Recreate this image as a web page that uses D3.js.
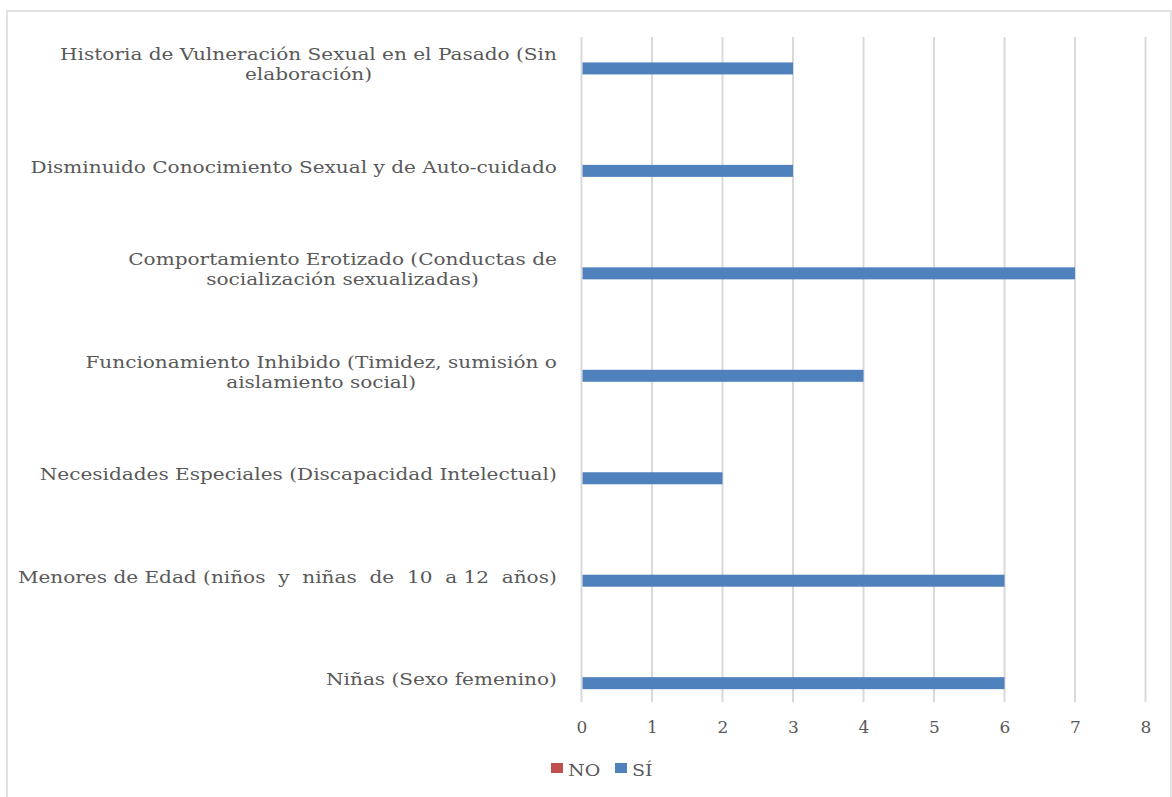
<!DOCTYPE html>
<html>
<head>
<meta charset="utf-8">
<script src="https://cdn.jsdelivr.net/npm/d3@7"></script>
<style>
  html, body { margin: 0; padding: 0; background: #fff; }
  svg { display: block; }
  text { font-family: "DejaVu Serif", "Liberation Serif", serif; fill: #595959; }
</style>
</head>
<body>
<svg id="chart" width="1172" height="797"></svg>
<script>
const categories = [
  "Historia de Vulneración Sexual en el Pasado (Sin\nelaboración)",
  "Disminuido Conocimiento Sexual y de Auto-cuidado",
  "Comportamiento Erotizado (Conductas de\nsocialización sexualizadas)",
  "Funcionamiento Inhibido (Timidez, sumisión o\naislamiento social)",
  "Necesidades Especiales (Discapacidad Intelectual)",
  "Menores de Edad (niños  y  niñas  de  10  a 12  años)",
  "Niñas (Sexo femenino)"
];
const seriesNames = ["NO", "SÍ"];
const valuesNO = [0, 0, 0, 0, 0, 0, 0];
const valuesSI = [3, 3, 7, 4, 2, 6, 6];
const xTicks = [0, 1, 2, 3, 4, 5, 6, 7, 8];
const colors = { "NO": "#c0504d", "SÍ": "#4f81bd" };

const svg = d3.select("#chart");

// chart frame
svg.append("rect")
  .attr("x", 7).attr("y", 11).attr("width", 1164).attr("height", 820)
  .attr("fill", "none").attr("stroke", "#d9d9d9").attr("stroke-width", 1.5);

const plotTop = 37, plotBottom = 702;
const x = d3.scaleLinear().domain([0, 8]).range([581.5, 1145.5]);
const y = d3.scaleBand().domain(categories).range([11.2, 728.4]).padding(0);
const yInner = d3.scaleBand().domain(seriesNames)
  .range([0, y.bandwidth()]).paddingOuter((y.bandwidth() - 24) / 24).paddingInner(0);

// gridlines
svg.append("g").selectAll("line").data(xTicks).join("line")
  .attr("x1", d => x(d)).attr("x2", d => x(d))
  .attr("y1", plotTop).attr("y2", plotBottom)
  .attr("stroke", "#d9d9d9").attr("stroke-width", 2);

// x tick labels
const xAxis = d3.axisBottom(x).tickValues(xTicks).tickSize(0).tickPadding(0).tickFormat(d3.format("d"));
const gx = svg.append("g").attr("transform", `translate(0,${plotBottom})`).call(xAxis);
gx.select(".domain").remove();
gx.selectAll("text").attr("dy", null).attr("y", 31)
  .style("font-family", '"DejaVu Serif", serif').style("font-size", "17px").attr("fill", "#595959");

// bars
const rows = categories.map((c, i) => ({ cat: c, NO: valuesNO[i], "SÍ": valuesSI[i] }));
const groups = svg.append("g").selectAll("g").data(rows).join("g")
  .attr("transform", d => `translate(0,${y(d.cat)})`);
groups.selectAll("rect").data(d => seriesNames.map(s => ({ s, v: d[s] }))).join("rect")
  .attr("x", x(0) + 1)
  .attr("y", d => yInner(d.s))
  .attr("width", d => Math.max(0, x(d.v) - x(0) - 1))
  .attr("height", yInner.bandwidth())
  .attr("fill", d => colors[d.s]);

// category labels (multi-line, lines centered within block, block right-aligned)
const labelRight = 557;
const lineH = 20;
const sx = 1.18;
const lg = svg.append("g");
rows.forEach(r => {
  const lines = r.cat.split("\n");
  const anchorY = y(r.cat) + yInner("SÍ") + yInner.bandwidth() / 2 + 2;
  const t = lg.append("text").style("font-size", "17px");
  const tspans = lines.map((ln, k) => t.append("tspan")
    .attr("x", 0)
    .attr("y", (k - (lines.length - 1) / 2) * lineH)
    .attr("text-anchor", "middle")
    .attr("xml:space", "preserve")
    .text(ln));
  const widths = tspans.map(ts => ts.node().getComputedTextLength());
  const maxW = Math.max(...widths) * sx;
  const cx = labelRight - maxW / 2;
  t.attr("transform", `translate(${cx},${anchorY}) scale(${sx},1)`);
});

// legend
const legend = svg.append("g");
const legendItems = [{ s: "NO", x: 551 }, { s: "SÍ", x: 615 }];
legendItems.forEach(it => {
  legend.append("rect").attr("x", it.x).attr("y", 763).attr("width", 12).attr("height", 10)
    .attr("fill", colors[it.s]);
  legend.append("text").attr("transform", `translate(${it.x + 17},776) scale(1.12,1)`)
    .style("font-size", "17px").text(it.s);
});
</script>
</body>
</html>
